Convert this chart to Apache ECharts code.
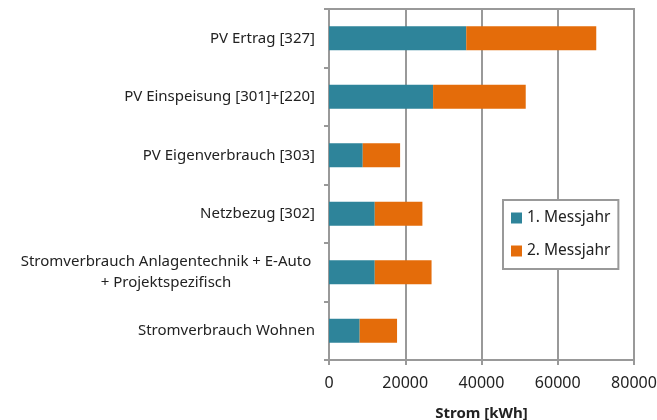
<!DOCTYPE html>
<html>
<head>
<meta charset="utf-8">
<script src="https://cdn.jsdelivr.net/npm/echarts@6/dist/echarts.min.js"></script>
<style>
  html, body { margin: 0; padding: 0; background: #fff; }
  #chart { width: 657px; height: 420px; }
</style>
</head>
<body>
<div id="chart"></div>
<script>
// categories, top to bottom
const categories = [
  "PV Ertrag [327]",
  "PV Einspeisung [301]+[220]",
  "PV Eigenverbrauch [303]",
  "Netzbezug [302]",
  "Stromverbrauch Anlagentechnik + E-Auto\n+ Projektspezifisch",
  "Stromverbrauch Wohnen"
];
const year1 = [36000, 27300, 8850, 12000, 12000, 8050];
const year2 = [34100, 24300, 9800, 12500, 14900, 9800];
const seriesNames = ["1. Messjahr", "2. Messjahr"];

const font = "Noto Sans";
const chart = echarts.init(document.getElementById("chart"));

chart.setOption({
  animation: false,
  textStyle: { fontFamily: font },
  grid: {
    left: 329, right: 23, top: 9, bottom: 60,
    outerBoundsMode: "none",
    show: true, borderColor: "#999", borderWidth: 2
  },
  legend: {
    orient: "vertical",
    left: 503, top: 200,
    padding: [10, 8, 10, 8],
    backgroundColor: "#fff",
    borderColor: "#999",
    borderWidth: 2,
    itemWidth: 11, itemHeight: 11,
    itemGap: 17,
    icon: "rect",
    textStyle: { fontSize: 15.5, color: "#222", fontFamily: font },
    data: seriesNames
  },
  xAxis: {
    type: "value",
    min: 0, max: 80000, interval: 20000,
    name: "Strom [kWh]",
    nameLocation: "middle",
    nameGap: 46,
    nameTextStyle: { fontSize: 15, fontWeight: "bold", color: "#222", fontFamily: font },
    axisLine: { show: true, lineStyle: { color: "#999", width: 2 } },
    axisTick: { show: true, length: 5, lineStyle: { color: "#999", width: 2 } },
    axisLabel: {
      fontSize: 16, color: "#222", margin: 15, fontFamily: font,
      formatter: function (v) { return String(v); }
    },
    splitLine: { show: true, lineStyle: { color: "#999", width: 2 } }
  },
  yAxis: {
    type: "category",
    inverse: true,
    data: categories,
    axisLine: { show: true, lineStyle: { color: "#999", width: 2 } },
    axisTick: { show: true, length: 5, lineStyle: { color: "#999", width: 2 } },
    axisLabel: {
      fontSize: 15, color: "#222", margin: 14, fontFamily: font,
      formatter: function (v) {
        if (v.indexOf("\n") >= 0) {
          return v.split("\n").map(function (s) { return "{c|" + s + "}"; }).join("\n");
        }
        return v;
      },
      rich: {
        c: { width: 298, align: "center", fontSize: 15, color: "#222", fontFamily: font, lineHeight: 21 }
      }
    }
  },
  series: [
    {
      name: seriesNames[0], type: "bar", stack: "total",
      data: year1, barCategoryGap: "59%",
      itemStyle: { color: "#2E849A" }
    },
    {
      name: seriesNames[1], type: "bar", stack: "total",
      data: year2,
      itemStyle: { color: "#E46C0A" }
    }
  ]
});
</script>
</body>
</html>
